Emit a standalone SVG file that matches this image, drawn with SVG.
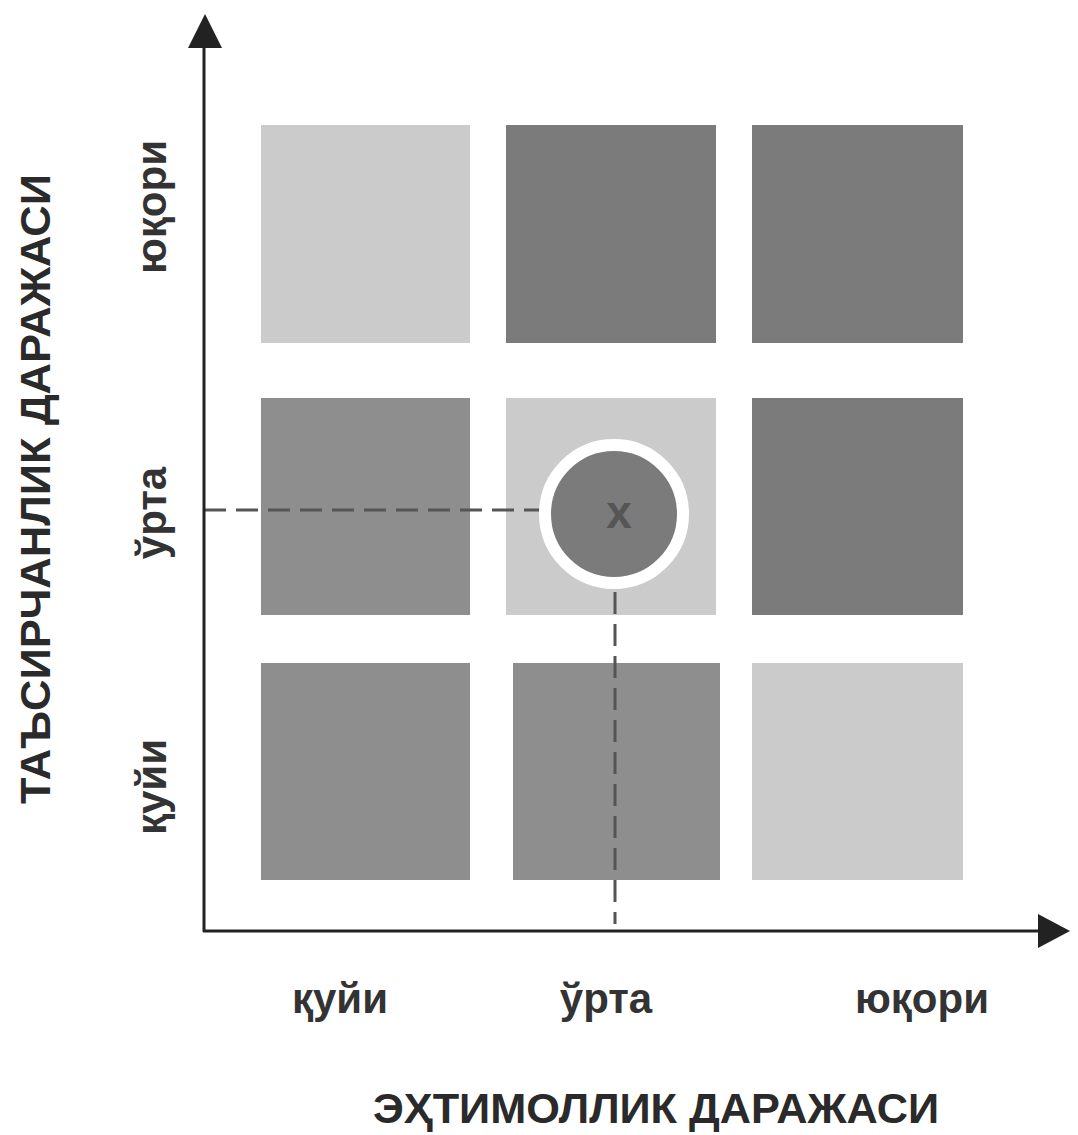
<svg xmlns="http://www.w3.org/2000/svg" width="1078" height="1135" viewBox="0 0 1078 1135">
<style>
.light{fill:#cbcbcb}
.dark{fill:#7b7b7b}
.mid{fill:#8e8e8e}
.dash{stroke:#555;stroke-width:3;stroke-dasharray:22 10;fill:none}
.lbl{font-family:"Liberation Sans",Arial,sans-serif;font-weight:bold;font-size:42px;fill:#333;text-anchor:middle}
.ttl{font-family:"Liberation Sans",Arial,sans-serif;font-weight:bold;font-size:42px;fill:#2a2a2a;text-anchor:middle}
</style>
<rect width="1078" height="1135" fill="#fff"/>
<g id="cells">
<rect id="c11" class="light" x="261" y="125" width="209" height="218"/>
<rect id="c12" class="dark" x="506" y="125" width="210" height="218"/>
<rect id="c13" class="dark" x="752" y="125" width="211" height="218"/>
<rect id="c21" class="mid" x="261" y="398" width="209" height="217"/>
<rect id="c22" class="light" x="506" y="398" width="210" height="217"/>
<rect id="c23" class="dark" x="752" y="398" width="211" height="217"/>
<rect id="c31" class="mid" x="261" y="663" width="209" height="217"/>
<rect id="c32" class="mid" x="513" y="663" width="207" height="217"/>
<rect id="c33" class="light" x="752" y="663" width="211" height="217"/>
</g>
<g id="connectors">
<path class="dash" d="M204,510 H546"/>
<path class="dash" d="M615,592 V924"/>
<path d="M204,932 V46" stroke="#222" stroke-width="3"/>
<path d="M205,14 L188,48 L222,48 Z" fill="#222"/>
<path d="M203,931 H1040" stroke="#222" stroke-width="3"/>
<path d="M1070,931 L1038,914 L1038,948 Z" fill="#222"/>
</g>
<g id="point">
<circle cx="614" cy="514" r="69" fill="#7b7b7b" stroke="#fff" stroke-width="12"/>
<text x="619" y="528" font-family="Liberation Sans,Arial,sans-serif" font-weight="bold" font-size="46" fill="#555" text-anchor="middle">x</text>
</g>
<g id="xlabels">
<text class="lbl" x="340" y="1013">қуйи</text>
<text class="lbl" x="606" y="1013">ўрта</text>
<text class="lbl" x="922" y="1013">юқори</text>
<text class="ttl" x="656" y="1123" textLength="566" lengthAdjust="spacingAndGlyphs">ЭҲТИМОЛЛИК ДАРАЖАСИ</text>
</g>
<g id="ylabels">
<text class="lbl" transform="translate(166,207) rotate(-90)">юқори</text>
<text class="lbl" transform="translate(166,513) rotate(-90)">ўрта</text>
<text class="lbl" transform="translate(166,787) rotate(-90)">қуйи</text>
<text class="ttl" transform="translate(50,489) rotate(-90)" textLength="630" lengthAdjust="spacingAndGlyphs">ТАЪСИРЧАНЛИК ДАРАЖАСИ</text>
</g>
</svg>
